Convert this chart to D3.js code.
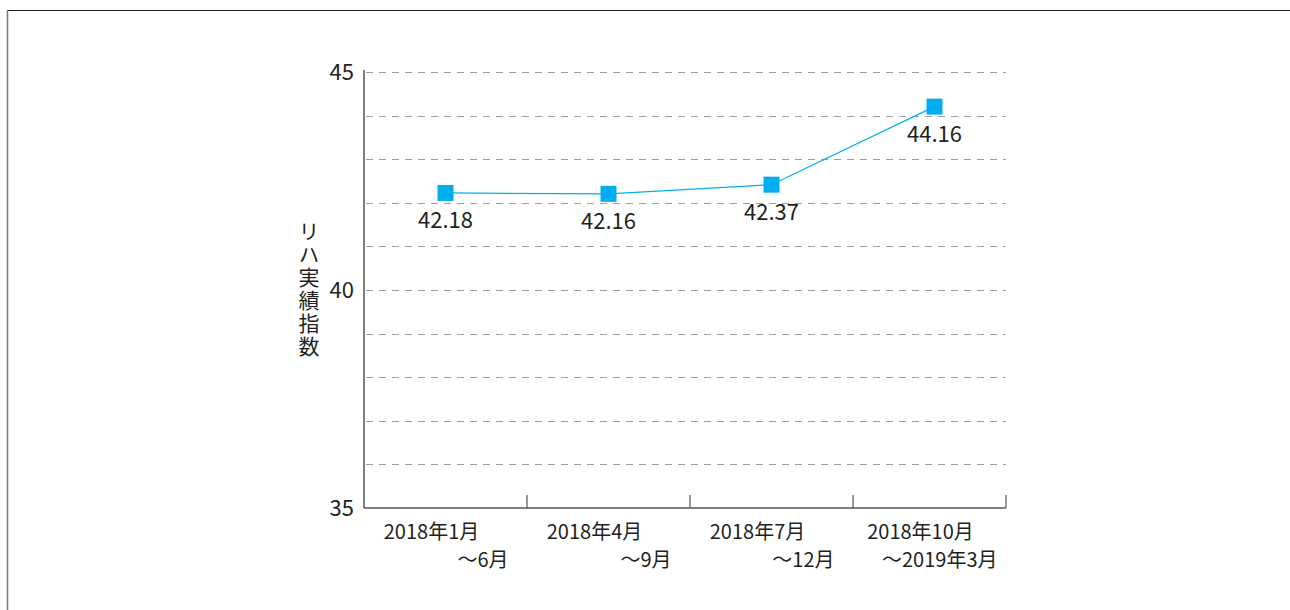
<!DOCTYPE html>
<html>
<head>
<meta charset="utf-8">
<script src="https://cdn.jsdelivr.net/npm/d3@7"></script>
<style>
  body { margin: 0; background: #fff; }
  text { font-family: "Noto Sans CJK JP", "Noto Sans", sans-serif; fill: #231f20; }
</style>
</head>
<body>
<div id="chart"></div>
<script>

// data
const periodsTop = ["2018年1月", "2018年4月", "2018年7月", "2018年10月"];
const periodsBottom = ["〜6月", "〜9月", "〜12月", "〜2019年3月"];
const values = [42.18, 42.16, 42.37, 44.16];
const yTicks = [35, 40, 45];
const yGrid = [36, 37, 38, 39, 40, 41, 42, 43, 44, 45];
const yTitle = "リハ実績指数";

// --------------------------------------
//  Canvas
// --------------------------------------

const width = 1290;
const height = 610;

const svg = d3.select("#chart")
  .append("svg")
    .attr("width", width)
    .attr("height", height);

// frame
svg.append("line")
    .attr("x1", 7).attr("x2", width)
    .attr("y1", 10.5).attr("y2", 10.5)
    .attr("stroke", "#231f20")
    .attr("stroke-width", 1);
svg.append("line")
    .attr("x1", 7.5).attr("x2", 7.5)
    .attr("y1", 10).attr("y2", height)
    .attr("stroke", "#777")
    .attr("stroke-width", 1.5);

// --------------------------------------
//  Scales
// --------------------------------------

const plotLeft = 364, plotRight = 1006, plotTop = 72, plotBottom = 508;

const x = d3.scaleBand()
    .domain(periodsTop)
    .range([plotLeft, plotRight + 10]);

const y = d3.scaleLinear()
    .domain([35, 45])
    .range([plotBottom, plotTop]);

const cx = d => x(d) + x.bandwidth() / 2;

// grid
svg.append("g")
  .selectAll("line")
  .data(yGrid)
  .join("line")
    .attr("x1", plotLeft + 2)
    .attr("x2", plotRight)
    .attr("y1", d => Math.round(y(d)) + 0.5)
    .attr("y2", d => Math.round(y(d)) + 0.5)
    .attr("stroke", "#9d9d9d")
    .attr("stroke-width", 1)
    .attr("stroke-dasharray", "7,6");

// axes
svg.append("line")
    .attr("x1", plotLeft).attr("x2", plotLeft)
    .attr("y1", plotTop - 2).attr("y2", plotBottom)
    .attr("stroke", "#555")
    .attr("stroke-width", 1.5);
svg.append("line")
    .attr("x1", plotLeft).attr("x2", plotRight)
    .attr("y1", plotBottom).attr("y2", plotBottom)
    .attr("stroke", "#555")
    .attr("stroke-width", 1.5);

// x ticks between categories (pointing up)
const tickPos = periodsTop.slice(0, -1).map((d, i) => (cx(d) + cx(periodsTop[i + 1])) / 2).concat([plotRight]);
svg.append("g")
  .selectAll("line")
  .data(tickPos)
  .join("line")
    .attr("x1", d => d).attr("x2", d => d)
    .attr("y1", plotBottom - 13).attr("y2", plotBottom)
    .attr("stroke", "#555")
    .attr("stroke-width", 1.2);

// y tick labels
svg.append("g")
  .selectAll("text")
  .data(yTicks)
  .join("text")
    .attr("x", plotLeft - 10)
    .attr("y", d => y(d) + 8)
    .attr("text-anchor", "end")
    .attr("font-size", 22)
    .text(d => d);

// x labels, two lines
svg.append("g")
  .selectAll("text")
  .data(periodsTop)
  .join("text")
    .attr("x", d => cx(d) - 14)
    .attr("y", plotBottom + 31)
    .attr("text-anchor", "middle")
    .attr("font-size", 20)
    .text(d => d);

svg.append("g")
  .selectAll("text")
  .data(periodsBottom)
  .join("text")
    .attr("x", (d, i) => cx(periodsTop[i]) + 63)
    .attr("y", plotBottom + 59)
    .attr("text-anchor", "end")
    .attr("font-size", 20)
    .text(d => d);

// y title, vertical
svg.append("text")
    .attr("x", 309)
    .attr("y", 221)
    .attr("font-size", 21)
    .style("writing-mode", "vertical-rl")
    .style("text-orientation", "upright")
    .style("letter-spacing", "2px")
    .text(yTitle);

// line + markers
const line = d3.line()
    .x((d, i) => cx(periodsTop[i]))
    .y(d => y(d) - 2);

svg.append("path")
    .datum(values)
    .attr("d", line)
    .attr("fill", "none")
    .attr("stroke", "#00aeef")
    .attr("stroke-width", 1.2);

svg.append("g")
  .selectAll("rect")
  .data(values)
  .join("rect")
    .attr("x", (d, i) => cx(periodsTop[i]) - 8)
    .attr("y", d => y(d) - 10)
    .attr("width", 16)
    .attr("height", 16)
    .attr("fill", "#00aeef");

svg.append("g")
  .selectAll("text")
  .data(values)
  .join("text")
    .attr("x", (d, i) => cx(periodsTop[i]))
    .attr("y", d => y(d) + 33)
    .attr("text-anchor", "middle")
    .attr("font-size", 22)
    .text(d => d.toFixed(2));

</script>
</body>
</html>
